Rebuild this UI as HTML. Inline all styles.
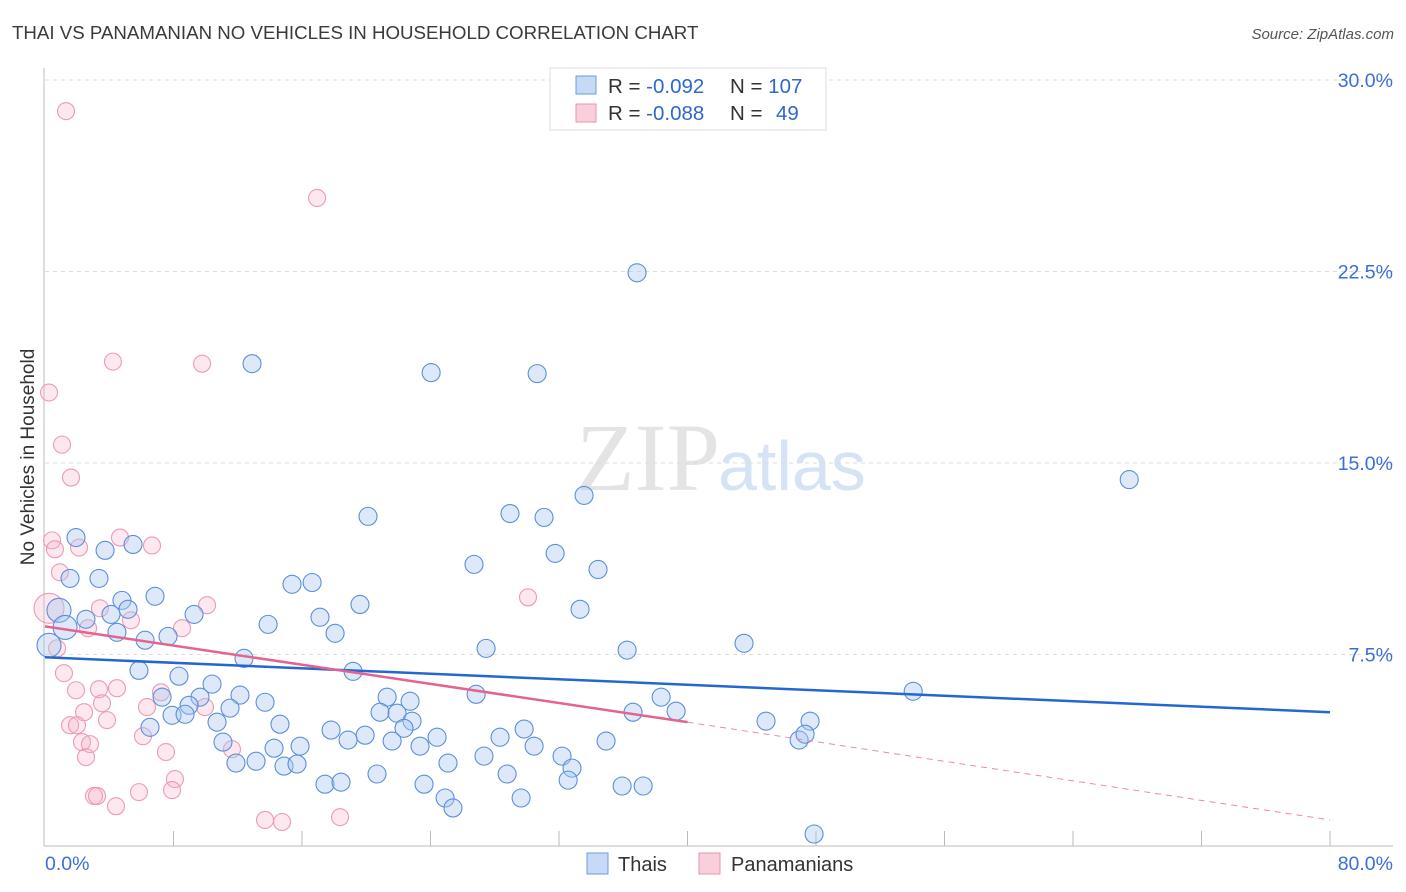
<!DOCTYPE html>
<html><head><meta charset="utf-8"><style>
body{margin:0;background:#fff;font-family:"Liberation Sans",sans-serif;}
svg{display:block}
</style></head><body>
<svg id="chart" width="1406" height="892" xmlns="http://www.w3.org/2000/svg">
<text x="12" y="39" font-size="18.7" fill="#3a3a3a">THAI VS PANAMANIAN NO VEHICLES IN HOUSEHOLD CORRELATION CHART</text>
<text x="1394" y="39" font-size="15" fill="#555" font-style="italic" text-anchor="end">Source: ZipAtlas.com</text>
<text x="720" y="490" font-size="96" fill="#e4e4e4" font-family="Liberation Serif" text-anchor="end">ZIP</text>
<text x="718" y="490" font-size="70" fill="#d6e3f5">atlas</text>
<g id="grid"></g><g id="axes"></g><g id="pts"></g><g id="trend"></g>
<text transform="translate(34,457) rotate(-90)" font-size="19" fill="#333" text-anchor="middle">No Vehicles in Household</text>
<g>
<rect x="550" y="68" width="276" height="62" fill="#fff" stroke="#ddd"/>
<rect x="576" y="76" width="20" height="18" fill="#c6d9f5" stroke="#6d9be0"/>
<rect x="576" y="104" width="20" height="18" fill="#f9cfdc" stroke="#e991ad"/>
<text x="608" y="93" font-size="20.5" fill="#333">R = <tspan fill="#2f67d0">-0.092</tspan><tspan x="730">N = </tspan><tspan fill="#2f67d0">107</tspan></text>
<text x="608" y="120" font-size="20.5" fill="#333">R = <tspan fill="#2f67d0">-0.088</tspan><tspan x="730">N = </tspan><tspan x="776" fill="#2f67d0">49</tspan></text>
</g>
<g>
<rect x="587" y="853" width="21" height="21" fill="#c6d9f5" stroke="#6d9be0"/>
<text x="618" y="871" font-size="20" fill="#333">Thais</text>
<rect x="699" y="853" width="21" height="21" fill="#f9cfdc" stroke="#e991ad"/>
<text x="731" y="871" font-size="20" fill="#333">Panamanians</text>
</g>
</svg>
<script>
const yTicks=[7.5,15,22.5,30];
const yTickLabels=["7.5%","15.0%","22.5%","30.0%"];
const xTickLabels=["0.0%","80.0%"];
const thaiX=[36.86,12.89,24.04,30.64,67.5,33.56,20.11,28.95,31.07,1.93,3.74,5.48,31.76,26.71,34.43,1.56,3.36,15.38,16.63,6.85,19.61,4.79,5.17,0.87,33.31,9.28,2.55,4.11,17.12,1.25,4.48,18.06,7.66,6.23,13.89,27.46,36.24,43.52,0.25,12.39,19.18,5.85,8.34,10.4,12.14,7.29,9.65,13.7,21.3,22.73,26.84,38.36,54.05,8.97,11.52,7.91,8.72,20.86,21.92,22.85,36.61,39.29,44.89,47.63,10.71,14.63,6.54,17.81,22.35,29.83,19.93,21.61,24.41,28.33,11.08,15.88,14.26,18.87,23.35,30.45,34.93,46.95,47.32,13.14,11.89,14.88,25.09,27.33,32.19,15.69,32.81,20.67,28.77,17.43,18.43,23.6,32.57,35.93,37.24,24.91,29.64,25.4,47.88];
const thaiY=[22.45,18.89,18.54,18.5,14.35,13.73,12.91,13.02,12.87,12.08,11.58,11.81,11.46,11.03,10.83,10.48,10.48,10.25,10.32,9.78,9.46,9.62,9.27,9.23,9.27,9.07,8.88,9.07,8.96,8.56,8.37,8.33,8.21,8.06,8.68,7.74,7.67,7.94,7.86,7.35,6.84,6.88,6.65,6.34,5.91,5.83,5.83,5.63,5.83,5.67,5.94,5.83,6.06,5.51,5.4,5.12,5.16,5.24,5.2,4.89,5.24,5.28,4.89,4.89,4.85,4.77,4.65,4.54,4.61,4.58,4.34,4.11,4.26,4.26,4.07,3.91,3.83,4.15,3.91,3.91,4.11,4.15,4.38,3.32,3.25,3.13,3.25,3.52,3.52,3.21,3.05,2.82,2.82,2.42,2.5,2.42,2.58,2.35,2.35,1.88,1.88,1.49,0.47];
const panX=[1.31,16.94,4.23,9.78,0.25,1.06,1.62,0.44,0.62,2.12,4.67,6.66,0.93,30.07,3.42,10.09,5.35,2.68,8.53,0.75,1.18,1.93,3.36,4.48,7.22,2.43,6.35,9.96,1.56,1.99,3.86,3.55,6.1,2.3,2.8,2.55,7.53,11.64,8.09,7.91,5.85,3.05,3.24,4.42,13.7,14.76,18.37,0.25];
const panY=[28.78,25.38,18.97,18.89,17.76,15.72,14.43,11.97,11.62,11.69,12.08,11.77,10.72,9.74,9.31,9.43,8.84,8.53,8.53,7.74,6.77,6.1,6.14,6.18,6.02,5.24,5.44,5.44,4.73,4.73,4.93,5.59,4.3,4.07,3.99,3.48,3.68,3.79,2.62,2.19,2.11,1.96,1.96,1.56,1.02,0.94,1.13,9.31];
const thaiTrend=[7.39,5.24];      // value at x=0 and x=80
const panTrend=[8.6,4.85,1.02];   // value at x=0, 40, 80
const NS="http://www.w3.org/2000/svg";
const X=v=>45+v*(1285/80), Y=v=>846-v*(766/30);
function mk(tag,attrs,parent){const e=document.createElementNS(NS,tag);for(const k in attrs)e.setAttribute(k,attrs[k]);document.getElementById(parent).appendChild(e);return e;}
yTicks.forEach((t,i)=>{
 const l=mk('line',{x1:45,x2:1393,y1:Y(t),y2:Y(t),stroke:'#ddd','stroke-dasharray':'4,4'},'grid');
 
 
 const tx=mk('text',{x:1393,y:Y(t)+7,'font-size':19.5,fill:'#3a6fd8','text-anchor':'end'},'grid');
 tx.textContent=yTickLabels[i];
 
 
});
let a=mk('line',{x1:44,x2:44,y1:68,y2:846,stroke:'#bbb'},'axes');


a=mk('line',{x1:44,x2:1393,y1:846,y2:846,stroke:'#bbb'},'axes');


for(let i=1;i<=10;i++){
 const t=mk('line',{x1:X(i*8),x2:X(i*8),y1:831,y2:846,stroke:'#bbb'},'axes');
 
 
}
let xl=mk('text',{x:45,y:870,'font-size':19.5,fill:'#3a6fd8'},'axes');xl.textContent=xTickLabels[0];


xl=mk('text',{x:1393,y:870,'font-size':19.5,fill:'#3a6fd8','text-anchor':'end'},'axes');xl.textContent=xTickLabels[1];


panX.forEach((v,i)=>{
 const c=mk('circle',{cx:X(v),cy:Y(panY[i]),r:i===panX.length-1?15:8.5,fill:'rgba(246,178,200,0.3)',stroke:'#ee9ab5','stroke-width':1.1},'pts');
 
 
});
thaiX.forEach((v,i)=>{
 const big=(v<1.5&&thaiY[i]>7&&thaiY[i]<9.5);
 const c=mk('circle',{cx:X(v),cy:Y(thaiY[i]),r:big?12:9,fill:'rgba(170,200,240,0.4)',stroke:'#5b8fdc','stroke-width':1.1},'pts');
 
 
});
let t=mk('line',{x1:X(0),y1:Y(thaiTrend[0]),x2:X(80),y2:Y(thaiTrend[1]),stroke:'#2466d4','stroke-width':2.5},'trend');


t=mk('line',{x1:X(0),y1:Y(panTrend[0]),x2:X(40),y2:Y(panTrend[1]),stroke:'#e4638f','stroke-width':2.5},'trend');


t=mk('line',{x1:X(40),y1:Y(panTrend[1]),x2:X(80),y2:Y(panTrend[2]),stroke:'#e98aaa','stroke-width':1,'stroke-dasharray':'6,5'},'trend');


</script>
</body></html>
